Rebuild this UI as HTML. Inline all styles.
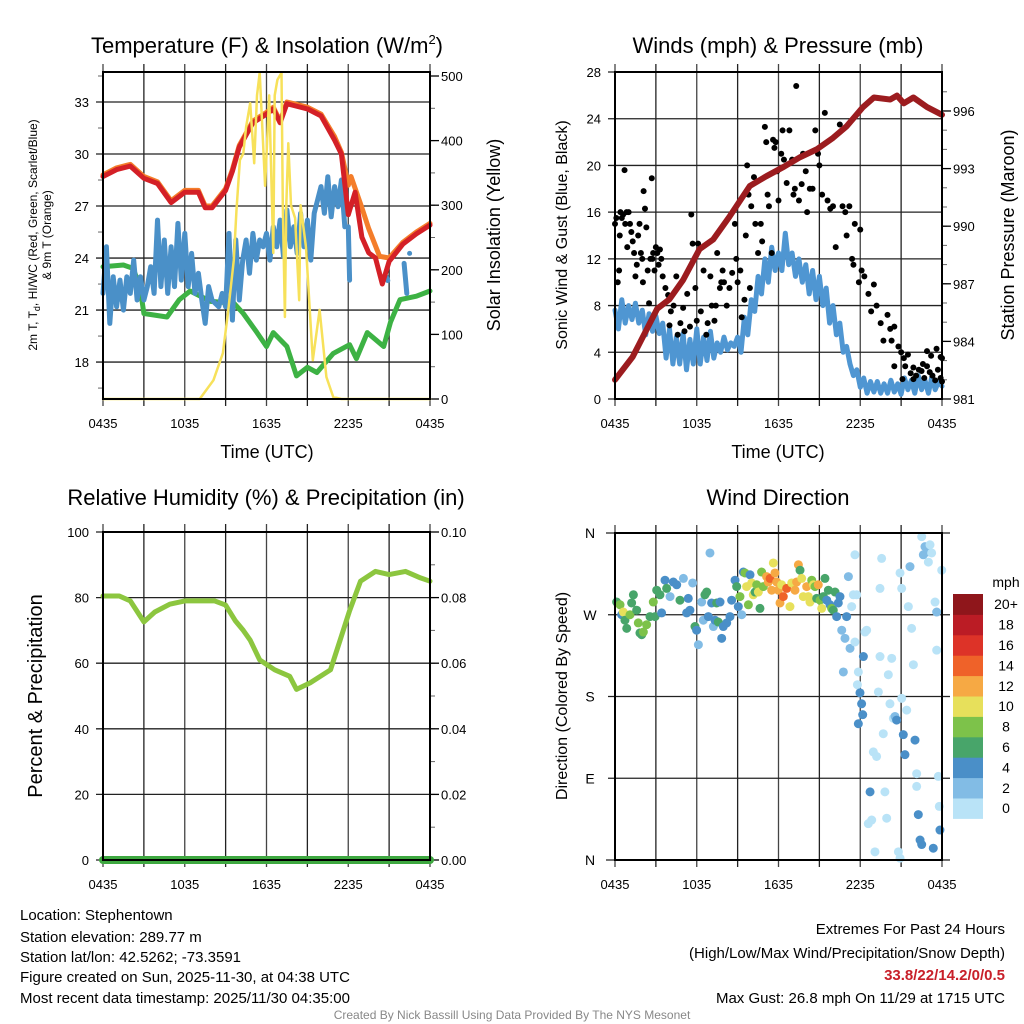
<!DOCTYPE html>
<html><head><meta charset="utf-8"><style>
html,body{margin:0;padding:0;background:#fff;}
svg{display:block;font-family:"Liberation Sans",Arial,sans-serif;}
</style></head><body>
<svg id="c" width="1024" height="1024" viewBox="0 0 1024 1024" xmlns="http://www.w3.org/2000/svg">
<rect width="1024" height="1024" fill="#fff"/>
<g id="g1"></g>
<g id="g2"></g>
<g id="g3"></g>
<g id="g4"></g>
<g font-size="15" fill="#000">
<text x="20" y="920">Location: Stephentown</text>
<text x="20" y="942">Station elevation: 289.77 m</text>
<text x="20" y="962">Station lat/lon: 42.5262; -73.3591</text>
<text x="20" y="982">Figure created on Sun, 2025-11-30, at 04:38 UTC</text>
<text x="20" y="1003">Most recent data timestamp: 2025/11/30 04:35:00</text>
<text x="1005" y="934" text-anchor="end">Extremes For Past 24 Hours</text>
<text x="1005" y="958" text-anchor="end">(High/Low/Max Wind/Precipitation/Snow Depth)</text>
<text x="1005" y="980" text-anchor="end" fill="#c8202a" font-weight="bold">33.8/22/14.2/0/0.5</text>
<text x="1005" y="1003" text-anchor="end">Max Gust: 26.8 mph On 11/29 at 1715 UTC</text>
<text x="512" y="1019" text-anchor="middle" font-size="12" fill="#888">Created By Nick Bassill Using Data Provided By The NYS Mesonet</text>
</g>
</svg>
<script>
const timeTicks=["0435","1035","1635","2235","0435"];
const tempTicks=[18,21,24,27,30,33];
const solarTicks=[0,100,200,300,400,500];
const windTicks=[0,4,8,12,16,20,24,28];
const presTicks=[981,984,987,990,993,996];
const rhTicks=[0,20,40,60,80,100];
const precipTicks=["0.00","0.02","0.04","0.06","0.08","0.10"];
const dirTicks=["N","E","S","W","N"];
const speedBins=["0","2","4","6","8","10","12","14","16","18","20+"];
const speedColors=["#b9e3f7","#82bce5","#4a8fc8","#48a56a","#7dc24a","#e7e05b","#f6a944","#ef6229","#dd3328","#bb1c25","#8f161b"];

const redT=[0,1,2,3,4,5,6,7,7.5,8,9,9.5,10,11,12,12.5,13,13.5,14,15,16,17,17.5,18,18.5,19,19.5,20,20.5,21,22,23,24];
const redV=[28.7,29.1,29.3,28.6,28.3,27.2,27.8,27.8,26.9,26.9,27.9,29.0,30.4,31.8,32.3,32.6,31.8,32.9,32.8,32.6,32.2,30.8,30.0,26.5,27.8,25.2,24.3,24.0,22.5,23.8,24.8,25.4,25.9];
const orangeT=[0,1,2,3,4,5,6,7,7.5,8,9,9.5,10,11,12,12.5,13,13.5,14,15,16,17,17.5,18,18.2,19,19.5,20.3,21,22,23,24];
const orangeV=[28.8,29.2,29.4,28.7,28.4,27.3,27.9,27.9,27.0,27.0,28.0,29.1,30.5,31.9,32.4,32.7,31.9,33.0,32.9,32.7,32.3,31.0,30.1,28.2,28.7,26.9,25.7,24.1,24.0,24.9,25.5,26.0];
const greenT=[0,1.5,2.2,2.7,3,4.7,5.6,6.4,7.9,9.6,10.3,11.3,12,12.5,13.5,14.2,15,15.7,16.9,18.1,18.6,19.4,20.6,21.1,21.8,23,24];
const greenV=[23.5,23.6,23.4,22.4,20.8,20.6,21.6,22.1,21.5,21.4,20.8,19.7,18.9,19.7,18.9,17.2,17.7,17.4,18.5,19.0,18.2,19.7,18.9,20.3,21.6,21.8,22.1];
const blueV=[21.96,24.65,20.23,22.92,21.19,22.73,21.0,22.92,21.96,23.88,21.58,22.92,21.58,22.35,23.5,21.96,26.19,22.35,25.04,21.96,24.65,22.35,26.0,22.73,25.42,22.35,24.27,21.96,23.12,21.58,20.23,22.35,21.58,21.38,21.19,21.96,21.19,25.42,20.42,25.04,21.58,23.88,25.04,23.12,25.42,23.88,25.04,24.65,25.42,23.88,25.8,24.65,26.19,24.08,26.77,24.65,25.8,24.27,26.58,24.65,26.19,23.88,26.58,27.35,28.12,26.58,28.69,26.38,28.12,26.96,28.5,25.8];
const blueGapT=[18.0,18.1,20.8,20.9,22.1,22.3,22.5];
const blueGapV=[25.8,22.73,22.9,22.7,23.69,21.96,24.27];
const solarT=[0,7.1,8.1,8.8,9.2,9.6,9.8,10.05,10.3,10.5,10.8,11.1,11.3,11.5,11.9,12.2,12.5,12.6,12.8,13.1,13.2,13.35,13.45,13.6,13.8,14.1,14.4,14.5,14.9,15.4,15.9,16.4,16.9,17.5,24];
const solarV=[0,0,29,71,138,215,293,370,380,421,458,365,470,505,330,470,226,470,494,505,300,127,300,396,300,280,153,300,235,60,138,34,3,0,0];

const presT=[0,1.3,3.1,4,5,6.2,7.2,8.4,9.9,11.1,12.4,13.6,14.8,16,17,18.2,19,20.2,20.7,21.2,21.9,22.9,24];
const presV=[982.0,983.2,985.7,986.2,987.2,988.8,989.3,990.5,992.1,992.6,993.1,993.6,994.0,994.6,995.2,996.2,996.7,996.6,996.8,996.4,996.7,996.2,995.8];
const sonicV=[7.6,6.0,8.5,6.5,8.0,6.8,8.2,6.5,7.6,5.5,7.3,5.8,7.1,5.6,6.5,3.5,6.0,3.0,5.3,3.0,5.6,2.5,5.1,3.0,6.0,3.0,5.3,3.3,5.8,3.5,4.8,4.0,5.3,4.2,4.8,4.5,5.3,4.0,7.0,5.5,8.5,7.5,10.5,9.0,12.0,10.0,13.0,11.0,12.5,11.0,14.2,11.5,12.5,10.5,12.0,10.0,11.5,9.0,11.0,8.5,10.5,8.0,9.5,6.5,8.0,5.5,6.5,4.0,4.5,3.0,2.0,2.5,1.0,1.8,0.5,1.5,0.6,1.5,0.5,1.3,0.5,1.6,0.6,1.3,0.4,1.8,0.8,1.6,0.5,2.0,0.8,1.6,0.5,1.9,0.8,1.5,1.1];
const gustT=[0,0.1,0.2,0.3,0.35,0.4,0.5,0.6,0.7,0.75,0.85,0.9,1,1.1,1.2,1.3,1.4,1.5,1.6,1.7,1.8,1.9,2,2.05,2.1,2.2,2.3,2.4,2.5,2.6,2.7,2.75,2.8,2.9,3,3.1,3.2,3.3,3.4,3.5,3.7,3.9,4,4.1,4.3,4.5,4.6,4.8,5,5.1,5.3,5.5,5.6,5.7,5.9,6,6.1,6.3,6.5,6.7,6.8,7,7.1,7.3,7.4,7.5,7.7,7.8,7.9,8,8.2,8.4,8.6,8.8,8.9,9,9.2,9.3,9.5,9.6,9.7,9.8,9.9,10,10.2,10.3,10.5,10.7,10.8,11,11.1,11.2,11.3,11.5,11.6,11.7,11.8,11.9,12,12.2,12.3,12.4,12.6,12.8,13,13.1,13.2,13.3,13.5,13.7,13.8,14,14.1,14.3,14.5,14.7,14.9,15,15.2,15.4,15.6,15.8,16,16.2,16.5,16.7,16.9,17,17.2,17.4,17.5,17.6,17.9,18,18.1,18.3,18.6,18.8,19,19.2,19.5,19.7,20,20.2,20.3,20.5,20.5,20.8,21,21.1,21.2,21.3,21.5,21.7,21.9,21.9,22.1,22.3,22.5,22.6,22.7,22.9,22.9,23.1,23.2,23.3,23.5,23.6,23.7,23.9,23.9,24,24];
const gustV=[15,15.5,10,11,14,16,15.5,15.8,19.6,15,16,13,16,15,14.3,13.5,12.5,10.5,11.5,14,15,12.5,12,10,17.8,16.3,14.7,11,8.2,12,18.9,12,12.5,11,13,12.5,11.5,12.8,12,10.5,9.5,8.9,6.3,7.5,8,10.5,5.5,6.5,7.8,5.8,9,6.2,15.8,13.3,9.5,6.7,13.3,7.5,11,5.5,6.5,10.5,8,6.7,8,12.5,9.5,10,11,10,8,9.5,10.8,15,12,10,11,7,8.5,14,20,17.5,9.5,16.5,19,15,12.5,15,13.5,23.3,22,17.5,16.5,12.5,22.2,21.5,22,19.5,17,21,23,20.5,18.5,23,20.5,17.5,18,26.8,17,18.4,21,19.5,16,18,18,23,21,20,17.5,24.5,17,16.3,16.5,13,23.5,16.5,16,14,16.5,12,11.5,15,10,14.5,11,10.5,9,7.5,9.8,8,6.5,5,7.2,6,5.0,6.2,2.8,4.5,4,1.7,3.5,2.8,3.8,2.2,2.7,1.7,2,2.5,2.4,3,1.8,2.8,4.1,2.3,3.7,2.0,1.6,4.3,2.5,1.8,3.6,1.5,3.5];

const rhT=[0,1.2,2,3,3.8,4.9,6,7.1,8.2,9,9.7,10.3,10.8,11.5,12.6,13.7,14.2,15.2,16.7,17.4,18.1,18.9,20,21,22.2,23.3,24];
const rhV=[80.5,80.5,79,72.6,75.6,78,79,79,79,77.7,73,70,67,61,58,56,52,54,58,67,76,85,88,87,88,86,85];
const precipT=[0,24];
const precipV=[0,0];

const dirT=[0.12,0.37,0.49,0.61,0.73,0.86,1.1,1.22,1.35,1.59,1.71,1.83,1.96,2.08,2.32,2.57,2.81,2.94,3.06,3.3,3.42,3.67,3.79,4.04,4.28,4.53,4.77,5.02,5.26,5.38,5.5,5.7,5.87,5.99,6.12,6.36,6.48,6.6,6.73,6.85,6.97,7.09,7.22,7.34,7.46,7.58,7.71,7.83,7.95,8.2,8.44,8.56,8.81,8.93,9.05,9.17,9.3,9.42,9.54,9.66,9.79,9.91,10.03,10.15,10.28,10.4,10.52,10.64,10.76,10.89,11.13,11.25,11.38,11.5,11.62,11.74,11.87,11.99,12.11,12.23,12.35,12.6,12.84,12.97,13.21,13.33,13.46,13.58,13.7,13.82,14.07,14.19,14.31,14.44,14.56,14.68,14.8,14.92,15.05,15.17,15.29,15.41,15.54,15.66,15.78,15.9,16.02,16.15,16.27,16.39,16.51,16.64,16.76,16.88,17.0,17.13,17.25,17.37,17.49,17.61,17.61,17.74,17.86,17.79,17.98,18.1,18.18,18.23,18.35,18.47,17.86,18.59,18.72,18.84,18.96,19.08,19.2,19.33,19.45,19.45,19.57,19.69,19.81,19.94,20.06,20.18,20.31,20.43,20.55,20.67,20.8,20.92,20.92,21.04,21.04,21.16,21.28,21.41,21.53,21.65,21.77,21.9,22.02,22.14,22.14,22.26,22.39,22.51,22.51,22.63,22.75,22.87,23.0,23.12,23.24,23.36,23.49,23.61,23.61,23.73,23.8,23.85,23.98];
const dirDeg=[284,281,270,273,264,255,270,283,292,275,261,250,248,251,259,268,284,268,297,292,272,308,299,290,306,303,286,310,272,288,275,305,257,253,237,284,264,292,295,268,338,283,257,264,283,262,284,244,257,261,268,286,308,301,279,290,270,317,316,301,281,314,305,292,295,303,295,277,317,301,312,306,310,297,327,316,306,297,283,303,290,299,279,305,297,306,325,319,310,290,301,290,284,308,303,301,288,303,286,277,290,310,286,297,281,277,275,295,268,283,290,253,207,244,268,312,233,279,292,336,240,292,207,193,184,172,160,224,251,253,150,40,75,44,119,9,114,185,299,224,332,139,75,46,204,172,222,156,158,154,9,2,316,299,178,138,116,165,279,323,255,215,132,95,81,50,22,17,356,336,345,339,328,347,338,13,284,273,231,92,59,33,319];
const dirSpd=[7,8,5,10,7,6,8,6,6,7,8,6,6,8,8,6,8,6,6,6,4,4,6,2,4,4,6,2,4,4,4,2,6,4,2,2,2,6,6,4,2,4,2,4,6,6,4,4,4,4,4,4,4,6,4,8,2,4,8,10,8,4,10,10,6,8,10,6,8,8,12,12,14,12,10,12,12,12,12,10,14,14,10,10,12,12,12,6,10,10,12,10,10,8,10,8,6,12,8,10,6,6,4,6,4,8,6,6,4,4,4,2,2,2,4,2,2,0,0,0,0,0,0,0,4,4,4,4,0,0,4,0,4,0,0,0,0,0,0,0,0,0,0,0,0,0,0,0,2,4,0,0,0,0,0,4,4,0,0,2,0,0,4,0,0,4,4,4,0,2,2,2,0,0,0,4,0,2,0,0,0,4,0];

const NS="http://www.w3.org/2000/svg";
function mk(parent,tag,attrs){const e=document.createElementNS(NS,tag);for(const k in attrs)e.setAttribute(k,attrs[k]);parent.appendChild(e);return e;}
function txt(parent,x,y,s,size,anchor,extra){const e=mk(parent,"text",Object.assign({x:x,y:y,"font-size":size,"text-anchor":anchor||"start",fill:"#000"},extra||{}));e.textContent=s;return e;}
function lin(d0,d1,r0,r1){return v=>r0+(v-d0)/(d1-d0)*(r1-r0);}
function pathFrom(ts,vs,sx,sy){let d="";for(let i=0;i<ts.length;i++){d+=(i?"L":"M")+sx(ts[i]).toFixed(1)+","+sy(vs[i]).toFixed(1);}return d;}

function frame(g,X0,X1,Y0,Y1,hVals,hy){
  const sx=lin(0,24,X0,X1);
  for(let k=0;k<=8;k++){const x=sx(k*3);
    const l=mk(g,"line",{x1:x,x2:x,y1:Y0-8,y2:Y1+7,stroke:k%2?"#222":"#444","stroke-width":1.3});
    
    }
  hVals.forEach(v=>{const y=hy(v);
    const l=mk(g,"line",{x1:X0-7,x2:X1,y1:y,y2:y,stroke:"#222","stroke-width":1.3});
    
    });
  timeTicks.forEach((s,i)=>{const t=txt(g,sx(i*6),Y1+29,s,13,"middle");
    
    });
}
function border(g,X0,X1,Y0,Y1){const r=mk(g,"rect",{x:X0,y:Y0,width:X1-X0,height:Y1-Y0,fill:"none",stroke:"#000","stroke-width":2});
  
  }
function rightTicks(g,X1,vals,sy,labels,minorStep,vmin,vmax){
  for(let v=vmin;v<=vmax+1e-9;v+=minorStep){const y=sy(v);const l=mk(g,"line",{x1:X1,x2:X1+5,y1:y,y2:y,stroke:"#666","stroke-width":1});
    
    }
  vals.forEach((v,i)=>{const y=sy(v);const l=mk(g,"line",{x1:X1,x2:X1+9,y1:y,y2:y,stroke:"#000","stroke-width":1.3});
    
    
    const t=txt(g,X1+11,y+5,labels[i],13,"start");
    
    });
}
function leftLabels(g,X0,vals,sy,labels){vals.forEach((v,i)=>{const t=txt(g,X0-14,sy(v)+5,labels[i],13,"end");
  
  });}
function vtitle(g,x,y,s,size,name){const t=txt(g,x,y,s,size,"middle",{transform:`rotate(-90 ${x} ${y})`});
  
  return t;}
function title(g,x,y,s,name){const t=txt(g,x,y,s,22,"middle");
  
  return t;}
function drawLine(g,ts,vs,sx,sy,color,w,name){const p=mk(g,"path",{d:pathFrom(ts,vs,sx,sy),fill:"none",stroke:color,"stroke-width":w,"stroke-linejoin":"round","stroke-linecap":"round"});
  
  return p;}

/* Panel 1 */
(function(){
  const g=document.getElementById("g1");
  const X0=103,X1=430,Y0=72,Y1=399;
  const sx=lin(0,24,X0,X1), sy=lin(15.87,34.73,Y1,Y0), ss=lin(0,506.2,Y1,Y0);
  frame(g,X0,X1,Y0,Y1,tempTicks,sy);
  for(let v=16.5;v<34.7;v+=1.5){if(Math.abs((v-18)%3)<0.01)continue;const y=sy(v);const l=mk(g,"line",{x1:X0-5,x2:X0,y1:y,y2:y,stroke:"#666","stroke-width":1});
    
    }
  leftLabels(g,X0,tempTicks,sy,tempTicks.map(String));
  rightTicks(g,X1,solarTicks,ss,solarTicks.map(String),50,0,500);
  const blueT=blueV.map((_,i)=>i*0.25);
  drawLine(g,greenT,greenV,sx,sy,"#3db244",5,"dewpoint-line");
  drawLine(g,blueT,blueV,sx,sy,"#4a90c8",5,"windchill-line");
  for(let i=0;i<blueGapT.length;i+=2){const a=[blueGapT[i],blueGapT[i+1]||blueGapT[i]],b=[blueGapV[i],blueGapV[i+1]||blueGapV[i]];
    drawLine(g,a,b,sx,sy,"#4a90c8",5,"windchill-segment");}
  drawLine(g,orangeT,orangeV,sx,sy,"#f47d2a",5,"temp-9m-line");
  drawLine(g,redT,redV,sx,sy,"#d42027",5,"temp-2m-line");
  drawLine(g,solarT,solarV,sx,ss,"#f7e15a",2.5,"solar-line");
  border(g,X0,X1,Y0,Y1);
  title(g,267,53,"","temperature-title").innerHTML='Temperature (F) &amp; Insolation (W/m<tspan dy="-9" font-size="13">2</tspan><tspan dy="9">)</tspan>';
  const t=txt(g,37,235,"",12,"middle",{transform:"rotate(-90 37 235)"});
  t.innerHTML='2m T, T<tspan dy="3" font-size="9">d</tspan><tspan dy="-3">, HI/WC (Red, Green, Scarlet/Blue)</tspan>';
  
  
  vtitle(g,51,235,"& 9m T (Orange)",12,"temperature-axis-title-2");
  vtitle(g,500,235,"Solar Insolation (Yellow)",18,"solar-axis-title");
  const xt=txt(g,267,458,"Time (UTC)",18,"middle");
  
  
})();

/* Panel 2 */
(function(){
  const g=document.getElementById("g2");
  const X0=615,X1=942,Y0=72,Y1=399;
  const sx=lin(0,24,X0,X1), sy=lin(0,28,Y1,Y0), sp=lin(981,998.03,Y1,Y0);
  frame(g,X0,X1,Y0,Y1,windTicks,sy);
  leftLabels(g,X0,windTicks,sy,windTicks.map(String));
  rightTicks(g,X1,presTicks,sp,presTicks.map(String),1,981,997);
  const sonicT=sonicV.map((_,i)=>i*0.25);
  drawLine(g,sonicT,sonicV,sx,sy,"#4f96d2",5,"sonic-wind-line");
  gustT.forEach((t,i)=>{const c=mk(g,"circle",{cx:sx(t),cy:sy(gustV[i]),r:3,fill:"#000"});
    
    });
  drawLine(g,presT,presV,sx,sp,"#9c1c1f",6,"pressure-line");
  border(g,X0,X1,Y0,Y1);
  title(g,778,53,"Winds (mph) & Pressure (mb)","winds-title");
  vtitle(g,567,235,"Sonic Wind & Gust (Blue, Black)",16,"wind-axis-title");
  vtitle(g,1014,235,"Station Pressure (Maroon)",18,"pressure-axis-title");
  const xt=txt(g,778,458,"Time (UTC)",18,"middle");
  
  
})();

/* Panel 3 */
(function(){
  const g=document.getElementById("g3");
  const X0=103,X1=430,Y0=532,Y1=860;
  const sx=lin(0,24,X0,X1), sy=lin(0,100,Y1,Y0), sq=lin(0,0.1,Y1,Y0);
  frame(g,X0,X1,Y0,Y1,rhTicks,sy);
  leftLabels(g,X0,rhTicks,sy,rhTicks.map(String));
  rightTicks(g,X1,precipTicks.map(Number),sq,precipTicks,0.01,0,0.1);
  drawLine(g,precipT,precipV,sx,sq,"#3ea840",8,"precip-line");
  drawLine(g,rhT,rhV,sx,sy,"#8cc63f",5,"rh-line");
  border(g,X0,X1,Y0,Y1);
  title(g,266,505,"Relative Humidity (%) & Precipitation (in)","humidity-title");
  vtitle(g,42,696,"Percent & Precipitation",20,"humidity-axis-title");
})();

/* Panel 4 */
(function(){
  const g=document.getElementById("g4");
  const X0=615,X1=942,Y0=533,Y1=860;
  const sx=lin(0,24,X0,X1), sy=lin(0,360,Y1,Y0);
  frame(g,X0,X1,Y0,Y1,[90,180,270],sy);
  [0,360].forEach(v=>{const l=mk(g,"line",{x1:X0-9,x2:X1+8,y1:sy(v),y2:sy(v),stroke:"#222","stroke-width":1.3});
    
    });
  [90,180,270].forEach(v=>{const l=mk(g,"line",{x1:X1,x2:X1+8,y1:sy(v),y2:sy(v),stroke:"#222","stroke-width":1.3});
    
    });
  dirTicks.forEach((s,i)=>{const t=txt(g,590,sy(i*90)+5,s,14,"middle");
    
    });
  dirT.forEach((t,i)=>{const b=Math.min(10,Math.floor(dirSpd[i]/2));
    const c=mk(g,"circle",{cx:sx(t),cy:sy(dirDeg[i]),r:4.5,fill:speedColors[b]});
    
    });
  const bx=953,by=594,bh=20.4;
  speedColors.forEach((col,i)=>{const j=10-i;
    const r=mk(g,"rect",{x:bx,y:by+j*bh,width:30,height:bh+0.5,fill:col});
    
    
    const t=txt(g,1006,by+j*bh+bh/2+5,speedBins[i],14,"middle");
    
    });
  const u=txt(g,1006,587,"mph",14,"middle");
  
  
  border(g,X0,X1,Y0,Y1);
  title(g,778,505,"Wind Direction","wind-direction-title");
  vtitle(g,567,696,"Direction (Colored By Speed)",16,"direction-axis-title");
})();
</script>
</body></html>
